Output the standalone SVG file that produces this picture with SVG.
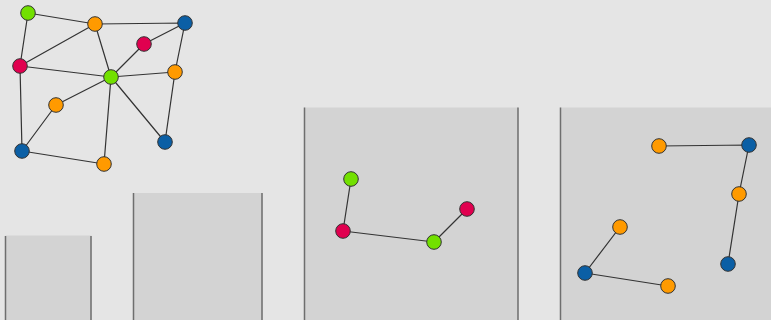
<svg xmlns="http://www.w3.org/2000/svg" width="771" height="320" viewBox="0 0 771 320">
<style>
.bg{fill:#e5e5e5}
.panel{fill:#d3d3d3}
.side{stroke:#6e6e6e;stroke-width:1.5;fill:none}
.e{stroke:#333;stroke-width:1.2;fill:none}
circle{stroke:#333;stroke-width:1}
.g{fill:#72e000}.o{fill:#ff9a00}.b{fill:#0b5fa5}.r{fill:#e0004f}
</style>
<rect class="bg" x="0" y="0" width="771" height="320"/>
<g id="panel1"><rect class="panel" x="5.5" y="235.5" width="86" height="85"/><path class="side" d="M5.5 236V320M91 236V320"/></g>
<g id="panel2"><rect class="panel" x="133.5" y="193" width="129" height="127"/><path class="side" d="M133.5 193V320M262 193V320"/></g>
<g id="panel3"><rect class="panel" x="304.5" y="107.5" width="213.5" height="213"/><path class="side" d="M304.5 107.5V320M518 107.5V320"/></g>
<g id="panel4"><rect class="panel" x="560.5" y="107.5" width="211" height="213"/><path class="side" d="M560.5 107.5V320"/></g>
<g id="connectors">
<path class="e" d="M28 13L95 24M28 13L20 66M95 24L185 23M95 24L20 66M95 24L111 77M185 23L144 44M185 23L175 72M144 44L111 77M20 66L111 77M111 77L175 72M111 77L56 105M111 77L104 164M111 77L165 142M175 72L165 142M56 105L22 151M20 66L22 151M22 151L104 164"/>
<path class="e" d="M351 179L343 231M343 231L434 242M434 242L467 209"/>
<path class="e" d="M659 146L749 145M749 145L739 194M739 194L728 264M620 227L585 273M585 273L668 286"/>
</g>
<g id="n1"><circle class="g" cx="28" cy="13" r="7.3"/></g>
<g id="n2"><circle class="o" cx="95" cy="24" r="7.3"/></g>
<g id="n3"><circle class="b" cx="185" cy="23" r="7.3"/></g>
<g id="n4"><circle class="r" cx="144" cy="44" r="7.3"/></g>
<g id="n5"><circle class="r" cx="20" cy="66" r="7.3"/></g>
<g id="n6"><circle class="g" cx="111" cy="77" r="7.3"/></g>
<g id="n7"><circle class="o" cx="175" cy="72" r="7.3"/></g>
<g id="n8"><circle class="o" cx="56" cy="105" r="7.3"/></g>
<g id="n9"><circle class="b" cx="22" cy="151" r="7.3"/></g>
<g id="n10"><circle class="o" cx="104" cy="164" r="7.3"/></g>
<g id="n11"><circle class="b" cx="165" cy="142" r="7.3"/></g>
<g id="n12"><circle class="g" cx="351" cy="179" r="7.3"/></g>
<g id="n13"><circle class="r" cx="343" cy="231" r="7.3"/></g>
<g id="n14"><circle class="g" cx="434" cy="242" r="7.3"/></g>
<g id="n15"><circle class="r" cx="467" cy="209" r="7.3"/></g>
<g id="n16"><circle class="o" cx="659" cy="146" r="7.3"/></g>
<g id="n17"><circle class="b" cx="749" cy="145" r="7.3"/></g>
<g id="n18"><circle class="o" cx="739" cy="194" r="7.3"/></g>
<g id="n19"><circle class="b" cx="728" cy="264" r="7.3"/></g>
<g id="n20"><circle class="o" cx="620" cy="227" r="7.3"/></g>
<g id="n21"><circle class="b" cx="585" cy="273" r="7.3"/></g>
<g id="n22"><circle class="o" cx="668" cy="286" r="7.3"/></g>
</svg>
